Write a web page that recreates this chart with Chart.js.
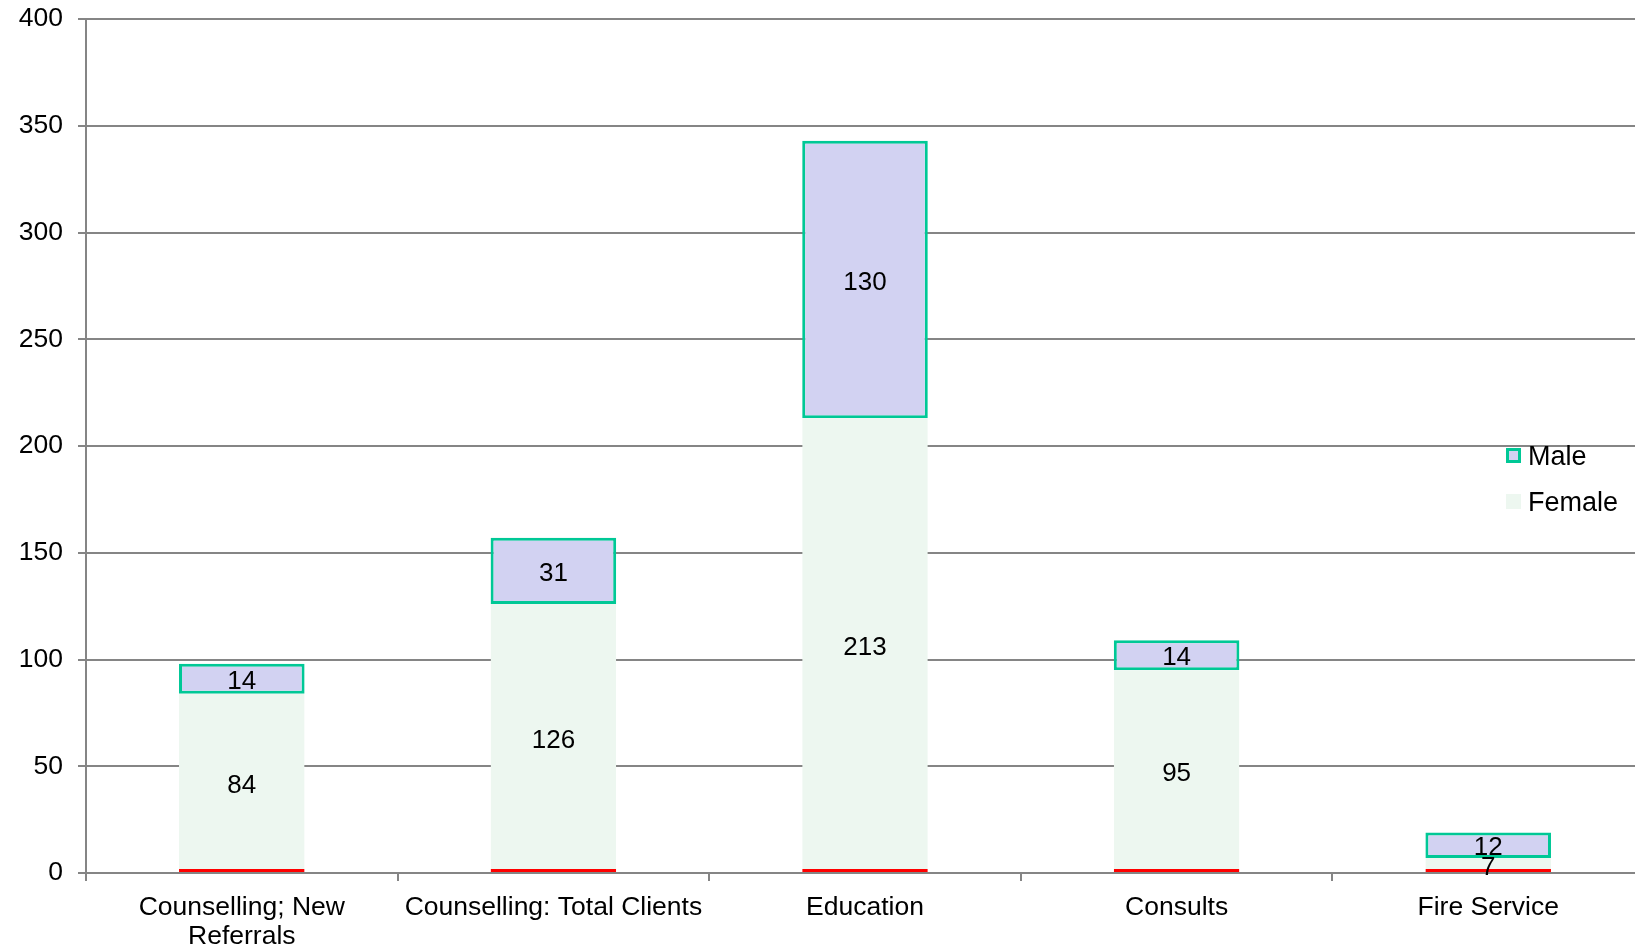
<!DOCTYPE html>
<html><head><meta charset="utf-8">
<script src="https://cdn.jsdelivr.net/npm/chart.js@4.4.1/dist/chart.umd.min.js"></script>
<style>
html,body{margin:0;padding:0;background:#fff;overflow:hidden;}
#wrap{position:relative;width:1644px;height:948px;}
#legend{font-family:"Liberation Sans",Arial,sans-serif;font-size:27px;color:#000;}
.box{position:absolute;width:15px;height:15px;box-sizing:border-box;}
.lbl{position:absolute;line-height:30px;height:30px;white-space:nowrap;}
</style></head>
<body>
<div id="wrap">
<canvas id="c"></canvas>
<div id="legend"></div>
</div>
<script>
const categories = [["Counselling; New","Referrals"],"Counselling: Total Clients","Education","Consults","Fire Service"];
const femaleValues = [84,126,213,95,7];
const maleValues = [14,31,130,14,12];
const yMin = 0, yMax = 400, yStep = 50;
const seriesNames = ["Male","Female"];

const FONT = '"Liberation Sans", Arial, sans-serif';
const GRID = '#858585';
const MALE_FILL = '#D2D2F2', MALE_BORDER = '#00C896';
const FEMALE_FILL = '#EDF7F0', BASE_RED = '#FF0000';

const valueLabels = {
  id:'valueLabels',
  afterDatasetsDraw(chart){
    const ctx = chart.ctx;
    ctx.save();
    ctx.font = '26px ' + FONT;
    ctx.fillStyle = '#000';
    ctx.textAlign = 'center';
    ctx.textBaseline = 'middle';
    chart.data.datasets.forEach((ds,i)=>{
      const meta = chart.getDatasetMeta(i);
      meta.data.forEach((bar,j)=>{
        const p = bar.getProps(['x','y','base'], true);
        ctx.fillText(String(ds.data[j]), p.x, (p.y+p.base)/2 + 3);
      });
    });
    ctx.restore();
  }
};

new Chart(document.getElementById('c'), {
  type:'bar',
  data:{
    labels: categories,
    datasets:[
      {label:seriesNames[1], data:femaleValues, backgroundColor:FEMALE_FILL, borderColor:BASE_RED,
       borderWidth:{top:0,left:0,right:0,bottom:3}, borderSkipped:false},
      {label:seriesNames[0], data:maleValues, backgroundColor:MALE_FILL, borderColor:MALE_BORDER,
       borderWidth:3, borderSkipped:false}
    ]
  },
  options:{
    responsive:true, maintainAspectRatio:false, animation:false,
    categoryPercentage:1, barPercentage:0.403,
    layout:{padding:{top:19,right:0,bottom:0,left:0}},
    plugins:{legend:{display:false}, tooltip:{enabled:false}},
    scales:{
      x:{stacked:true,
         grid:{offset:true, drawOnChartArea:false, drawTicks:true, tickLength:8, color:GRID, lineWidth:2},
         border:{color:GRID, width:2},
         ticks:{color:'#000', font:{size:26.5, family:FONT, lineHeight:1.1}, padding:12, maxRotation:0, autoSkip:false},
         afterFit(s){ s.height = 75; s.paddingLeft = 0; s.paddingRight = 0; }},
      y:{stacked:true, min:yMin, max:yMax,
         ticks:{stepSize:yStep, padding:15, color:'#000', font:{size:26.5, family:FONT}},
         grid:{color:GRID, lineWidth:2, tickLength:8},
         border:{color:GRID, width:2},
         afterFit(s){ s.width = 86; s.paddingTop = 10; s.paddingBottom = 10; }}
    }
  },
  plugins:[valueLabels]
});

const lg = document.getElementById('legend');
lg.innerHTML =
  '<div class="box" style="left:1506px;top:448px;background:'+MALE_FILL+';border:3px solid '+MALE_BORDER+'"></div>'+
  '<div class="lbl" style="left:1528px;top:441px">'+seriesNames[0]+'</div>'+
  '<div class="box" style="left:1506px;top:494px;background:'+FEMALE_FILL+'"></div>'+
  '<div class="lbl" style="left:1528px;top:487px">'+seriesNames[1]+'</div>';
</script>
</body></html>
